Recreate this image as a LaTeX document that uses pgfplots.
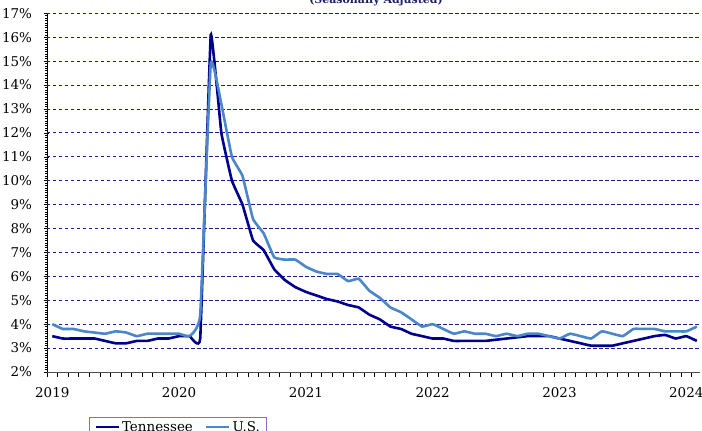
\documentclass[border=0pt]{standalone}
\usepackage{fontspec}
\setmainfont{DejaVu Serif}
\usepackage{pgfplots}
\pgfplotsset{compat=1.18}

\definecolor{tncol}{RGB}{0,0,140}
\definecolor{uscol}{RGB}{74,134,200}
\definecolor{gridcol}{RGB}{30,30,140}
\definecolor{legcol}{RGB}{150,100,200}
\definecolor{titlecol}{RGB}{30,30,100}

% month index: 0 = Jan 2019 ... 61 = Feb 2024
\begin{document}
\begin{tikzpicture}
\begin{axis}[
  scale only axis,
  width=653bp, height=358.7bp,
  xmin=-0.5, xmax=61.3,
  ymin=2, ymax=17,
  axis x line=bottom,
  axis y line=left,
  axis line style={-},
  x axis line style={draw=black!70, line width=0.8bp},
  y axis line style={black, line width=0.6bp},
  /pgf/number format/assume math mode=true,
  tick label style={font=\fontsize{13.5}{15}\selectfont},
  % month ticks between the categories
  xtick={-0.5,0.5,...,61.5},
  xticklabels={},
  xtick align=outside,
  extra x ticks={0,12,24,36,48,60},
  extra x tick labels={2019,2020,2021,2022,2023,2024},
  extra x tick style={major tick length=0pt, xticklabel style={yshift=-12bp}},
  ytick={2,...,17},
  yticklabel={\pgfmathprintnumber{\tick}\%},
  yticklabel style={xshift=-9bp},
  minor y tick num=9,
  ytick align=center,
  major tick length=5bp,
  minor tick length=3bp,
  tick style={black, line width=0.5bp},
  extra y ticks={3,...,17},
  extra y tick labels={},
  extra y tick style={grid=major, major tick length=0pt},
  major grid style={gridcol, line width=0.9bp, dash pattern=on 3.5bp off 2.5bp},
  legend columns=2,
  legend style={at={(axis description cs:0,0)}, anchor=north west,
    xshift=42bp, yshift=-45bp, draw=legcol, line width=0.9bp,
    font=\fontsize{13.5}{15}\selectfont, inner xsep=5bp, inner ysep=2bp,
    /tikz/every even column/.append style={column sep=10bp}},
  legend image code/.code={\draw[#1] (0bp,0bp) -- (23bp,0bp);},
]

\addplot [tncol, line width=2.6bp, smooth, tension=0.15] coordinates {
  (0,3.5) (1,3.4) (2,3.4) (3,3.4) (4,3.4) (5,3.3) (6,3.2) (7,3.2)
  (8,3.3) (9,3.3) (10,3.4) (11,3.4)
  (12,3.5) (13,3.5) (14,3.4) (15,16.1) (16,12.0) (17,10.0) (18,9.0)
  (19,7.5) (20,7.1) (21,6.3) (22,5.85) (23,5.55)
  (24,5.35) (25,5.2) (26,5.05) (27,4.95) (28,4.8) (29,4.7) (30,4.4)
  (31,4.2) (32,3.9) (33,3.8) (34,3.6) (35,3.5)
  (36,3.4) (37,3.4) (38,3.3) (39,3.3) (40,3.3) (41,3.3) (42,3.35)
  (43,3.4) (44,3.45) (45,3.5) (46,3.5) (47,3.5)
  (48,3.4) (49,3.3) (50,3.2) (51,3.1) (52,3.1) (53,3.1) (54,3.2)
  (55,3.3) (56,3.4) (57,3.5) (58,3.55) (59,3.4)
  (60,3.5) (61,3.3)
};
\addlegendentry{Tennessee}

\addplot [uscol, line width=2.6bp, smooth, tension=0.2] coordinates {
  (0,4.0) (1,3.8) (2,3.8) (3,3.7) (4,3.65) (5,3.6) (6,3.7) (7,3.65)
  (8,3.5) (9,3.6) (10,3.6) (11,3.6)
  (12,3.6) (13,3.5) (14,4.4) (15,14.9) (16,13.2) (17,11.0) (18,10.2)
  (19,8.4) (20,7.8) (21,6.8) (22,6.7) (23,6.7)
  (24,6.4) (25,6.2) (26,6.1) (27,6.1) (28,5.8) (29,5.9) (30,5.4)
  (31,5.1) (32,4.7) (33,4.5) (34,4.2) (35,3.9)
  (36,4.0) (37,3.8) (38,3.6) (39,3.7) (40,3.6) (41,3.6) (42,3.5)
  (43,3.6) (44,3.5) (45,3.6) (46,3.6) (47,3.5)
  (48,3.4) (49,3.6) (50,3.5) (51,3.4) (52,3.7) (53,3.6) (54,3.5)
  (55,3.8) (56,3.8) (57,3.8) (58,3.7) (59,3.7)
  (60,3.7) (61,3.9)
};
\addlegendentry{U.S.}
\end{axis}

\node[anchor=base, text=titlecol, font=\bfseries\fontsize{11}{13}\selectfont]
  at (329bp,368bp) {(Seasonally Adjusted)};

\pgfresetboundingbox
\useasboundingbox (-47bp,-59bp) rectangle (655bp,372bp);
\end{tikzpicture}
\end{document}
